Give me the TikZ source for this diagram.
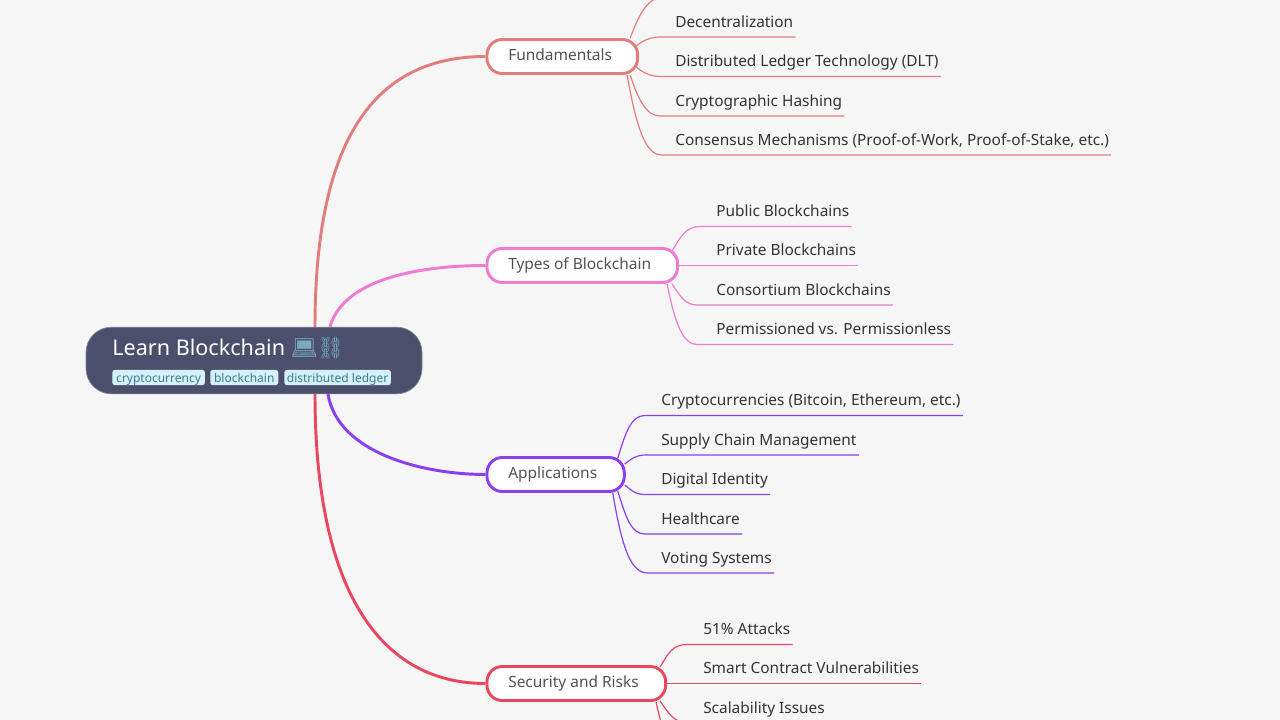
\documentclass[tikz,border=0pt]{standalone}
\usepackage{fontspec}
\setmainfont{Noto Sans}
\newfontfamily\emojifont{Noto Emoji}
\usetikzlibrary{calc,backgrounds}
\definecolor{pagebg}{HTML}{F6F6F6}
\definecolor{rootfill}{HTML}{4C4F6B}
\definecolor{tagfill}{HTML}{D5F0FA}
\definecolor{tagtext}{HTML}{3A7D95}
\definecolor{fundcol}{HTML}{E27D7D}
\definecolor{typecol}{HTML}{EF7BD3}
\definecolor{appcol}{HTML}{8A3FF0}
\definecolor{seccol}{HTML}{E8485F}
\tikzset{
  rootbox/.style={fill=rootfill,draw=rootfill!70!white,line width=0.5pt,rounded corners=19pt,minimum width=252pt,minimum height=50pt,inner sep=0pt},
  tagbox/.style={fill=tagfill,text=tagtext,rounded corners=2pt,inner sep=0pt,minimum height=11.5pt,text height=8pt,text depth=0.5pt,font=\fontsize{9}{10}\selectfont,anchor=west},
  branchbox/.style={fill=white,line width=2.2pt,rounded corners=11.5pt,minimum height=25.5pt,inner sep=0pt,anchor=west},
  branchtxt/.style={anchor=base west,inner sep=0pt,text=black!68,font=\fontsize{11.6}{13}\selectfont},
  leafbox/.style={inner ysep=0pt,inner xsep=1.5pt,anchor=south west,text height=9pt,text depth=7.1pt,text=black!80,font=\fontsize{11.55}{13}\selectfont},
  trunk/.style={line width=2.2pt},
  twig/.style={line width=0.9pt},
}
\begin{document}
\begin{tikzpicture}[x=0.75pt,y=-0.75pt]
  \useasboundingbox (0,0) rectangle (1280,720);
  \clip (0,0) rectangle (1280,720);

  \node[rootbox] (root) at (254,360.5) {};
  \node[anchor=base west,inner sep=0pt,text=white,font=\fontsize{16.2}{19}\selectfont] (title) at (112,355.5) {Learn Blockchain {\emojifont\textcolor{tagtext!60!tagfill}{\char"1F4BB\hspace{-1pt}\char"26D3}}};
  \node[tagbox,minimum width=69.5pt] (tagcrypto) at (112,377.5) {cryptocurrency};
  \node[tagbox,minimum width=51pt] (tagchain) at (210,377.5) {blockchain};
  \node[tagbox,minimum width=80pt] (tagledger) at (284,377.5) {distributed ledger};

  % branches
  \node[branchbox,draw=fundcol,minimum width=113pt] (fund) at (485.5,56.5) {};
  \node[branchbox,draw=typecol,minimum width=143pt] (types) at (485.5,265.5) {};
  \node[branchbox,draw=appcol,minimum width=103pt] (apps) at (485.5,474.5) {};
  \node[branchbox,draw=seccol,minimum width=134pt] (sec) at (485.5,683.5) {};
  \node[branchtxt] (fundtxt) at (508,60.5) {Fundamentals};
  \node[branchtxt] (typestxt) at (508,269.5) {Types of Blockchain};
  \node[branchtxt] (appstxt) at (508,478.5) {Applications};
  \node[branchtxt] (sectxt) at (508,687.5) {Security and Risks};

  % leaves, one row per text
  \foreach \name/\ypos/\txt in {fa/37/Decentralization,fb/76.5/Distributed Ledger Technology (DLT),fc/116/Cryptographic Hashing,fd/155/{Consensus Mechanisms (Proof-of-Work, Proof-of-Stake, etc.)}}{
    \node[leafbox] (\name) at (673,\ypos) {\txt};
  }
  \foreach \name/\ypos/\txt in {ta/226.5/Public Blockchains,tb/265.5/Private Blockchains,tc/305/Consortium Blockchains,td/344.5/Permissioned vs. Permissionless}{
    \node[leafbox] (\name) at (714,\ypos) {\txt};
  }
  \foreach \name/\ypos/\txt in {aa/415.5/{Cryptocurrencies (Bitcoin, Ethereum, etc.)},ab/455/Supply Chain Management,ac/494.5/Digital Identity,ad/534/Healthcare,ae/573/Voting Systems}{
    \node[leafbox] (\name) at (659,\ypos) {\txt};
  }
  \foreach \name/\ypos/\txt in {sa/644.5/51\% Attacks,sb/683.5/Smart Contract Vulnerabilities,sc/723/Scalability Issues}{
    \node[leafbox] (\name) at (701,\ypos) {\txt};
  }
  \coordinate (fundoff) at (664,-3);
  \coordinate (secoff) at (692,762);

  \begin{scope}[on background layer]
    \fill [pagebg] (0,0) rectangle (1280,720);

    % root to branches
    \draw [trunk,fundcol] ($(root.north)+(61,0)$) .. controls +(0,-197) and +(-105,0) .. (fund.west);
    \draw [trunk,typecol] ($(root.north)+(76,0)$) .. controls +(14,-50) and +(-60,0) .. (types.west);
    \draw [trunk,appcol] ($(root.south)+(74,0)$) .. controls +(10,60) and +(-60,0) .. (apps.west);
    \draw [trunk,seccol] ($(root.south)+(61,0)$) .. controls +(0,197) and +(-105,0) .. (sec.west);

    % branch to leaves
    \draw [twig,fundcol] ($(fund.north east)+(-9,0)$) .. controls +(8,-20) and +(-18,0) .. (fundoff);
    \draw [twig,fundcol] ($(fund.north east)+(-3,8)$) .. controls +(6,-5) and +(-10,0) .. ($(fa.south west)+(-13,0)$) -- (fa.south west) -- (fa.south east);
    \draw [twig,fundcol] ($(fund.south east)+(-3,-8)$) .. controls +(6,5) and +(-10,0) .. ($(fb.south west)+(-13,0)$) -- (fb.south west) -- (fb.south east);
    \draw [twig,fundcol] ($(fund.south east)+(-9,0)$) .. controls +(8,24) and +(-14,0) .. ($(fc.south west)+(-13,0)$) -- (fc.south west) -- (fc.south east);
    \draw [twig,fundcol] ($(fund.south east)+(-12,0)$) .. controls +(10,56) and +(-16,0) .. ($(fd.south west)+(-11,0)$) -- (fd.south west) -- (fd.south east);

    \draw [twig,typecol] ($(types.north east)+(-7,4)$) .. controls +(8,-14) and +(-14,0) .. ($(ta.south west)+(-14,0)$) -- (ta.south west) -- (ta.south east);
    \draw [twig,typecol] (types.east) -- (tb.south west) -- (tb.south east);
    \draw [twig,typecol] ($(types.south east)+(-7,0)$) .. controls +(8,12) and +(-12,0) .. ($(tc.south west)+(-17,0)$) -- (tc.south west) -- (tc.south east);
    \draw [twig,typecol] ($(types.south east)+(-12,0)$) .. controls +(8,40) and +(-14,0) .. ($(td.south west)+(-17,0)$) -- (td.south west) -- (td.south east);

    \draw [twig,appcol] ($(apps.north east)+(-8,2)$) .. controls +(8,-26) and +(-14,0) .. ($(aa.south west)+(-14,0)$) -- (aa.south west) -- (aa.south east);
    \draw [twig,appcol] ($(apps.north east)+(-1,8)$) .. controls +(6,-5) and +(-10,0) .. ($(ab.south west)+(-13,0)$) -- (ab.south west) -- (ab.south east);
    \draw [twig,appcol] ($(apps.south east)+(-1,-8)$) .. controls +(6,5) and +(-10,0) .. ($(ac.south west)+(-14,0)$) -- (ac.south west) -- (ac.south east);
    \draw [twig,appcol] ($(apps.south east)+(-8,-2)$) .. controls +(8,26) and +(-14,0) .. ($(ad.south west)+(-14,0)$) -- (ad.south west) -- (ad.south east);
    \draw [twig,appcol] ($(apps.south east)+(-13,0)$) .. controls +(10,60) and +(-16,0) .. ($(ae.south west)+(-11,0)$) -- (ae.south west) -- (ae.south east);

    \draw [twig,seccol] ($(sec.north east)+(-7,2)$) .. controls +(8,-14) and +(-14,0) .. ($(sa.south west)+(-14,0)$) -- (sa.south west) -- (sa.south east);
    \draw [twig,seccol] (sec.east) -- (sb.south west) -- (sb.south east);
    \draw [twig,seccol] ($(sec.south east)+(-7,-1)$) .. controls +(8,12) and +(-12,0) .. ($(sc.south west)+(-14,0)$) -- (sc.south west) -- (sc.south east);
    \draw [twig,seccol] ($(sec.south east)+(-11,0)$) .. controls +(8,40) and +(-14,0) .. (secoff);
  \end{scope}
\end{tikzpicture}
\end{document}
